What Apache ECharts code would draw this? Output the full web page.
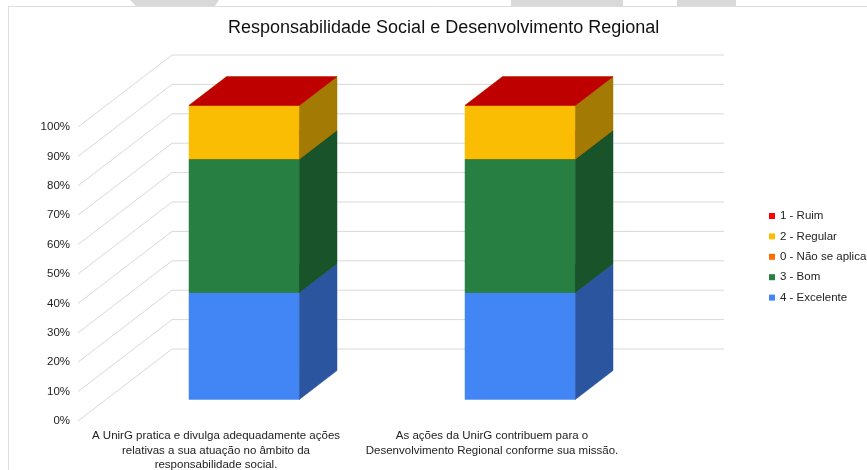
<!DOCTYPE html>
<html>
<head>
<meta charset="utf-8">
<script src="https://cdn.jsdelivr.net/npm/echarts@6/dist/echarts.min.js"></script>
<style>
  html, body { margin: 0; padding: 0; background: #ffffff; }
  #chart { width: 867px; height: 470px; }
</style>
</head>
<body>
<div id="chart"></div>
<script>
// ---- data ----
const chartTitle = 'Responsabilidade Social e Desenvolvimento Regional';
const categories = [
  'A UnirG pratica e divulga adequadamente ações\nrelativas a sua atuação no âmbito da\nresponsabilidade social.',
  'As ações da UnirG contribuem para o\nDesenvolvimento Regional conforme sua missão.'
];
const yTicks = [0, 10, 20, 30, 40, 50, 60, 70, 80, 90, 100];

// percentages per category, listed from the bottom of the stack upwards
const excelente = [36.36, 36.36];
const bom = [45.45, 45.45];
const naoSeAplica = [0, 0];
const regular = [18.18, 18.18];
const ruim = [0, 0];

const stackNames = ['4 - Excelente', '3 - Bom', '0 - Não se aplica', '2 - Regular', '1 - Ruim'];
const stackValues = [excelente, bom, naoSeAplica, regular, ruim];
const stackColors = ['#4285f4', '#277f41', '#ff6d01', '#fbbc04', '#ff0000'];
const legendOrder = ['1 - Ruim', '2 - Regular', '0 - Não se aplica', '3 - Bom', '4 - Excelente'];

// ---- 3D look ----
const DEPTH_X = 94;   // full floor depth, pixels to the right
const DEPTH_Y = -72;  // full floor depth, pixels upward
const BAR_FRONT = 0.3, BAR_BACK = 0.7; // bar position inside the depth
const BAR_WIDTH = 0.4;                 // fraction of the category band
const FONT = '"Liberation Sans", Arial, sans-serif';

function shade(hex, k) {
  const n = parseInt(hex.slice(1), 16);
  const r = Math.round(((n >> 16) & 255) * k);
  const g = Math.round(((n >> 8) & 255) * k);
  const b = Math.round((n & 255) * k);
  return 'rgb(' + r + ',' + g + ',' + b + ')';
}

// cumulative base of each stacked segment
const stackBases = stackValues.map((vals, s) =>
  vals.map((_, i) => stackValues.slice(0, s).reduce((acc, arr) => acc + arr[i], 0))
);

function face(points, color) {
  return {
    type: 'polygon',
    shape: { points: points },
    style: { fill: color, stroke: color, lineWidth: 0.5 }
  };
}

function boxRenderer(s) {
  const color = stackColors[s];
  const sideColor = shade(color, 0.65);
  const topColor = shade(color, 0.75);
  return function (params, api) {
    const i = api.value(0);
    const v = api.value(1);
    const base = stackBases[s][i];
    const band = api.size([1, 0])[0];
    const w = band * BAR_WIDTH;
    const p0 = api.coord([i, base]);
    const p1 = api.coord([i, base + v]);
    const fx = DEPTH_X * BAR_FRONT, fy = DEPTH_Y * BAR_FRONT;
    const dx = DEPTH_X * (BAR_BACK - BAR_FRONT), dy = DEPTH_Y * (BAR_BACK - BAR_FRONT);
    const xl = p0[0] - w / 2 + fx, xr = p0[0] + w / 2 + fx;
    const yb = p0[1] + fy, yt = p1[1] + fy;
    const children = [];
    if (v > 0) {
      children.push(face([[xl, yb], [xr, yb], [xr, yt], [xl, yt]], color));
      children.push(face([[xr, yb], [xr + dx, yb + dy], [xr + dx, yt + dy], [xr, yt]], sideColor));
    }
    children.push(face([[xl, yt], [xr, yt], [xr + dx, yt + dy], [xl + dx, yt + dy]], topColor));
    return { type: 'group', children: children };
  };
}

// walls: a diagonal on the side wall and a horizontal on the back wall per tick
function wallRenderer(params, api) {
  const v = api.value(1);
  const band = api.size([1, 0])[0];
  const a = api.coord([0, v]);
  const b = api.coord([categories.length - 1, v]);
  const x0 = a[0] - band / 2, x1 = b[0] + band / 2, y = a[1];
  return {
    type: 'polyline',
    shape: { points: [[x0, y], [x0 + DEPTH_X, y + DEPTH_Y], [x1 + DEPTH_X, y + DEPTH_Y]] },
    style: { stroke: '#d9d9d9', lineWidth: 1, fill: null }
  };
}

const series = [{
  name: 'walls',
  type: 'custom',
  silent: true,
  z: 1,
  renderItem: wallRenderer,
  data: yTicks.map(t => [0, t])
}];

stackNames.forEach((name, s) => {
  series.push({
    name: name,
    type: 'custom',
    z: 2 + s,
    itemStyle: { color: stackColors[s] },
    renderItem: boxRenderer(s),
    data: stackValues[s].map((v, i) => [i, v])
  });
});

const chart = echarts.init(document.getElementById('chart'), null, { renderer: 'canvas' });
chart.setOption({
  animation: false,
  backgroundColor: '#ffffff',
  title: {
    text: chartTitle,
    left: 228,
    top: 19,
    padding: 0,
    textStyle: { fontFamily: FONT, fontSize: 18, fontWeight: 'normal', color: '#111111' }
  },
  legend: {
    data: legendOrder,
    orient: 'vertical',
    left: 769,
    top: 210,
    padding: 0,
    itemWidth: 6,
    itemHeight: 6,
    itemGap: 8.4,
    icon: 'rect',
    selectedMode: false,
    textStyle: { fontFamily: FONT, fontSize: 11.5, color: '#222222', lineHeight: 12 }
  },
  grid: { left: 78, right: 237, top: 127, bottom: 49, containLabel: false, outerBoundsMode: 'none' },
  xAxis: {
    type: 'category',
    data: categories,
    axisLine: { show: false },
    axisTick: { show: false },
    splitLine: { show: false },
    axisLabel: {
      interval: 0,
      margin: 8,
      fontFamily: FONT,
      fontSize: 11.5,
      lineHeight: 14.5,
      color: '#222222',
      align: 'center'
    }
  },
  yAxis: {
    type: 'value',
    min: 0,
    max: 100,
    interval: 10,
    axisLine: { show: false },
    axisTick: { show: false },
    splitLine: { show: false },
    axisLabel: {
      formatter: '{value}%',
      margin: 8,
      fontFamily: FONT,
      fontSize: 11.5,
      color: '#222222'
    }
  },
  graphic: [
    { type: 'polygon', silent: true, shape: { points: [[130, 0], [219, 0], [215, 6], [136, 6]] }, style: { fill: '#d9d9d9' } },
    { type: 'rect', silent: true, shape: { x: 511, y: 0, width: 112, height: 6 }, style: { fill: '#d9d9d9' } },
    { type: 'rect', silent: true, shape: { x: 677, y: 0, width: 59, height: 6 }, style: { fill: '#d9d9d9' } },
    { type: 'line', silent: true, shape: { x1: 8, y1: 6.5, x2: 867, y2: 6.5 }, style: { stroke: '#dddddd', lineWidth: 1 } },
    { type: 'line', silent: true, shape: { x1: 8.5, y1: 6, x2: 8.5, y2: 470 }, style: { stroke: '#dddddd', lineWidth: 1 } }
  ],
  series: series
});
</script>
</body>
</html>
